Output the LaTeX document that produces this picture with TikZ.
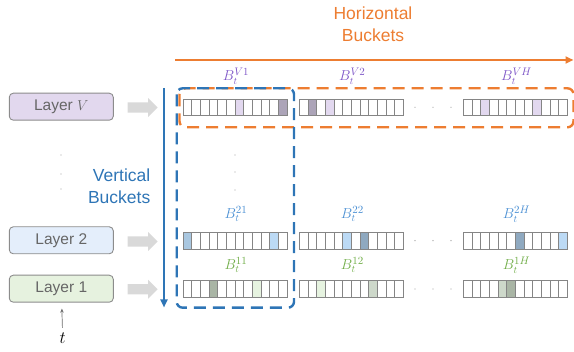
\documentclass[tikz,border=0pt]{standalone}
\usepackage{fontspec}
\setmainfont{Liberation Sans}
\usetikzlibrary{shapes.arrows,arrows.meta}
\definecolor{hbOrange}{HTML}{ED7D31}
\definecolor{vbBlue}{HTML}{2E75B6}
\definecolor{laygray}{HTML}{8C8C8C}
\definecolor{txtgray}{HTML}{666666}
\definecolor{arrgray}{HTML}{D9D9D9}
\definecolor{cellgray}{HTML}{858585}
\definecolor{fillV}{HTML}{E2D8EE}
\definecolor{fillTwo}{HTML}{E4EEFB}
\definecolor{fillOne}{HTML}{E6F2DF}
\definecolor{purL}{HTML}{E2D8EF}
\definecolor{purD}{HTML}{ACA4B8}
\definecolor{bluL}{HTML}{BCDAF5}
\definecolor{bluM}{HTML}{A9C7E0}
\definecolor{bluD}{HTML}{8FA9C0}
\definecolor{grnL}{HTML}{E6F3E0}
\definecolor{grnM}{HTML}{CDD8CA}
\definecolor{grnD}{HTML}{A9B5A5}
\definecolor{lblPur}{HTML}{7D55C7}
\definecolor{lblBlu}{HTML}{4A8FD3}
\definecolor{lblGrn}{HTML}{70AD47}
\newcommand\mybucket[3]{%
  \foreach \k/\c in {#3} {\fill[\c] ({#1+\k*8.6667},#2) rectangle ++(8.6667,16.5);}
  \foreach \k in {0,...,11} {\draw[cellline] ({#1+\k*8.6667},#2) rectangle ++(8.6667,16.5);}
}
\newcommand\bkt[1]{$B_t^{\hbox{\fontsize{10.5}{12}\selectfont$#1$}}$}
\begin{document}
\begin{tikzpicture}[x=1pt,y=-1pt,
  layerbox/.style={draw=laygray, line width=0.9pt, rounded corners=4pt, minimum width=104pt, minimum height=27pt, text=txtgray, font=\fontsize{15.5}{18}\selectfont, inner sep=0pt},
  feedarrow/.style={single arrow, fill=arrgray, draw=none, minimum height=30pt, inner xsep=0pt, inner ysep=5pt, single arrow head extend=4.2pt},
  cellline/.style={draw=cellgray, line width=0.9pt},
  lbl/.style={font=\fontsize{14}{16}\selectfont, inner sep=0pt},
  bigtxt/.style={font=\fontsize{17.5}{22}\selectfont, inner sep=0pt},
  dashbox/.style={line width=2.4pt, rounded corners=6pt, dash pattern=on 12pt off 7pt},
  dotmark/.style={fill=gray!70, draw=none, circle, inner sep=0pt, minimum size=1.4pt},
]
\useasboundingbox (0,0) rectangle (574,352);

% Layers
\node[layerbox, fill=fillV] (lV) at (61.3,106.7) {Layer $V$};
\node[layerbox, fill=fillTwo] (l2) at (61.3,240.3) {Layer 2};
\node[layerbox, fill=fillOne] (l1) at (61.3,288.7) {Layer 1};

% feed arrows
\node[feedarrow] (aV) at (140,107.5) {};
\node[feedarrow] (a2) at (140,241.5) {};
\node[feedarrow] (a1) at (140,289.3) {};

% t input
\node[inner sep=0pt, font=\fontsize{16}{18}\selectfont] (t) at (62.7,338.5) {$t$};
\draw[-{Stealth[length=4pt,width=3.5pt]}, draw=gray!85!black, line width=0.7pt, shorten <=5pt, shorten >=6pt] (t) -- (l1);

% vertical dots
\node[dotmark] (d1) at (61,155) {};
\node[dotmark] (d2) at (61,174) {};
\node[dotmark] (d3) at (61,189) {};
\node[dotmark] (m1) at (235,155) {};
\node[dotmark] (m2) at (235,172) {};
\node[dotmark] (m3) at (235,190) {};

% Horizontal dots
\foreach \yy/\nm in {107.3/V,240.7/T,289/O} {
  \node[dotmark] (h1\nm) at (415,\yy) {};
  \node[dotmark] (h2\nm) at (433,\yy) {};
  \node[dotmark] (h3\nm) at (451,\yy) {};
}

% Buckets
\mybucket{183}{99}{6/purL,11/purD}
\mybucket{299.3}{99}{1/purD,3/purL}
\mybucket{463.3}{99}{2/purL,8/purL}
\mybucket{183}{232.5}{0/bluM,10/bluL}
\mybucket{299.3}{232.5}{5/bluL,7/bluD}
\mybucket{463.3}{232.5}{6/bluD,11/bluL}
\mybucket{183}{280.5}{3/grnD,8/grnL}
\mybucket{299.3}{280.5}{2/grnL,8/grnM}
\mybucket{463.3}{280.5}{4/grnM,5/grnD}

% labels
\node[lbl, text=lblPur] (bV1) at (236,76) {\bkt{V1}};
\node[lbl, text=lblPur] (bV2) at (352.3,76) {\bkt{V2}};
\node[lbl, text=lblPur] (bVH) at (516.5,76) {\bkt{VH}};
\node[lbl, text=lblBlu] (b21) at (236,214) {\bkt{21}};
\node[lbl, text=lblBlu] (b22) at (352.3,214) {\bkt{22}};
\node[lbl, text=lblBlu] (b2H) at (516.5,214) {\bkt{2H}};
\node[lbl, text=lblGrn] (b11) at (236,265) {\bkt{11}};
\node[lbl, text=lblGrn] (b12) at (352.3,265) {\bkt{12}};
\node[lbl, text=lblGrn] (b1H) at (516.5,265) {\bkt{1H}};

% Dashed groups
\draw[dashbox, draw=hbOrange] (179.5,88.3) rectangle (573.5,127.3);
\draw[dashbox, draw=vbBlue] (176.7,88.3) rectangle (294,307.7);

% Axes arrows
\coordinate (vtop) at (164,88);
\coordinate (vbot) at (164,307.5);
\draw[line width=2pt, draw=vbBlue, -{Triangle[length=8pt,width=7pt]}] (vtop) -- (vbot);
\coordinate (hleft) at (175,60);
\coordinate (hright) at (573.5,60);
\draw[line width=2pt, draw=hbOrange, -{Triangle[length=8pt,width=7pt]}] (hleft) -- (hright);

% Titles
\node[bigtxt, text=hbOrange, align=center] (htitle) at (373,24) {Horizontal\\Buckets};
\node[bigtxt, text=vbBlue, align=right, anchor=east] (vtitle) at (150.5,186) {Vertical\\Buckets};
\end{tikzpicture}
\end{document}
